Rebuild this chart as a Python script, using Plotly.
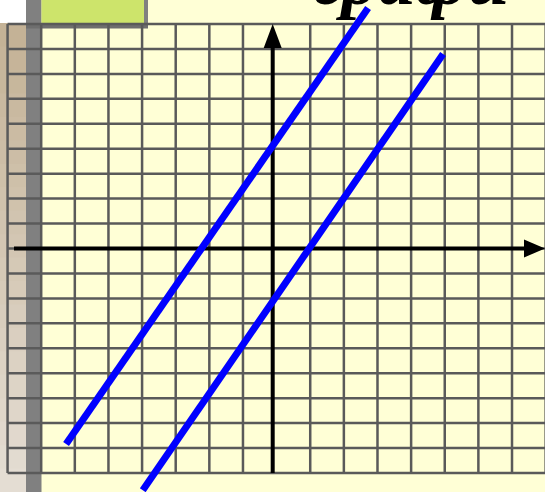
import plotly.graph_objects as go

# two parallel lines (1 cell = 1 unit)
line1_x = [-6.26, 2.72]
line1_y = [-7.84, 9.64]
line2_x = [-3.98, 4.95]
line2_y = [-9.69, 7.8]

grid_x = [-8, -7, -6, -5, -4, -3, -2, -1, 1, 2, 3, 4, 5, 6, 7, 8]
grid_y = list(range(-9, 10))

title_text = "графи"

W, H = 545, 492
X0, SX = 276.6, 33.63   # pixel position of x=0, pixels per unit
Y0, SY = 248.5, 24.94

BG = "#ffffd6"
GRID = "#5a5a5a"


def px(x):
    return x / W


def py(y):
    return 1 - y / H


def ux(p):
    return (p - X0) / SX


def uy(p):
    return (Y0 - p) / SY


shapes = []

# tan strip on the left, lighter toward the bottom
top_c = (196, 178, 150)
bot_c = (228, 221, 211)
n = 20
for i in range(n):
    t = i / (n - 1)
    c = tuple(round(a + (b - a) * t) for a, b in zip(top_c, bot_c))
    y_a = 23 + (H - 23) * i / n
    y_b = 23 + (H - 23) * (i + 1) / n + 1
    shapes.append(dict(type="rect", xref="paper", yref="paper", layer="below",
                       x0=px(0), x1=px(26), y0=py(y_a), y1=py(y_b),
                       fillcolor="rgb(%d,%d,%d)" % c, line_width=0))

# white corner, gray bar, green box
shapes.append(dict(type="rect", xref="paper", yref="paper", layer="below",
                   x0=px(0), x1=px(26), y0=py(0), y1=py(23),
                   fillcolor="white", line_width=0))
shapes.append(dict(type="rect", xref="paper", yref="paper", layer="below",
                   x0=px(26), x1=px(41.5), y0=py(0), y1=py(H),
                   fillcolor="#808080", line_width=0))
shapes.append(dict(type="rect", xref="paper", yref="paper", layer="below",
                   x0=px(41.5), x1=px(144), y0=py(0), y1=py(23.5),
                   fillcolor="#cde46b", line_width=0))
shapes.append(dict(type="rect", xref="paper", yref="paper", layer="below",
                   x0=px(144), x1=px(148), y0=py(0), y1=py(28),
                   fillcolor="#808080", line_width=0))
shapes.append(dict(type="rect", xref="paper", yref="paper", layer="below",
                   x0=px(26), x1=px(148), y0=py(23), y1=py(28.5),
                   fillcolor="#6e6e6e", line_width=0))

# grid
for gx in grid_x:
    shapes.append(dict(type="line", xref="x", yref="y", layer="below",
                       x0=gx, x1=gx, y0=min(grid_y), y1=max(grid_y),
                       line=dict(color=GRID, width=2.5)))
for gy in grid_y:
    shapes.append(dict(type="line", xref="x", yref="y", layer="below",
                       x0=min(grid_x), x1=ux(W + 2), y0=gy, y1=gy,
                       line=dict(color=GRID, width=2.5)))

# axes with arrow heads
ax_x = ux(272.7)
shapes.append(dict(type="line", xref="x", yref="y", layer="below",
                   x0=ux(14), x1=ux(527), y0=0, y1=0,
                   line=dict(color="black", width=4)))
shapes.append(dict(type="path", xref="x", yref="y", layer="below",
                   path="M %f %f L %f %f L %f %f Z" % (
                       ux(524), 9 / SY, ux(545), 0, ux(524), -9 / SY),
                   fillcolor="black", line_width=0))
shapes.append(dict(type="line", xref="x", yref="y", layer="below",
                   x0=ax_x, x1=ax_x, y0=min(grid_y), y1=uy(46),
                   line=dict(color="black", width=4)))
shapes.append(dict(type="path", xref="x", yref="y", layer="below",
                   path="M %f %f L %f %f L %f %f Z" % (
                       ax_x - 9 / SX, uy(48), ax_x, uy(24), ax_x + 9 / SX, uy(48)),
                   fillcolor="black", line_width=0))

fig = go.Figure()
for lx, ly in [(line1_x, line1_y), (line2_x, line2_y)]:
    fig.add_trace(go.Scatter(x=lx, y=ly, mode="lines",
                             line=dict(color="#0000ff", width=7),
                             hoverinfo="skip", showlegend=False))

# big slide title, only its lower edge shows at the top
fig.add_annotation(text=title_text, xref="paper", yref="paper",
                   x=px(511), y=py(22), xanchor="right", yanchor="bottom",
                   showarrow=False,
                   font=dict(family="Liberation Serif", size=74, color="black",
                             weight="bold", style="italic"))

fig.update_layout(
    width=W, height=H,
    margin=dict(l=0, r=0, t=0, b=0),
    paper_bgcolor=BG, plot_bgcolor=BG,
    shapes=shapes,
    xaxis=dict(range=[ux(0), ux(W)], visible=False, showgrid=False,
               zeroline=False, fixedrange=True),
    yaxis=dict(range=[uy(H), uy(0)], visible=False, showgrid=False,
               zeroline=False, fixedrange=True),
)

fig.write_html("out.html", config={"displayModeBar": False},
               post_script="document.body.style.margin='0';")
